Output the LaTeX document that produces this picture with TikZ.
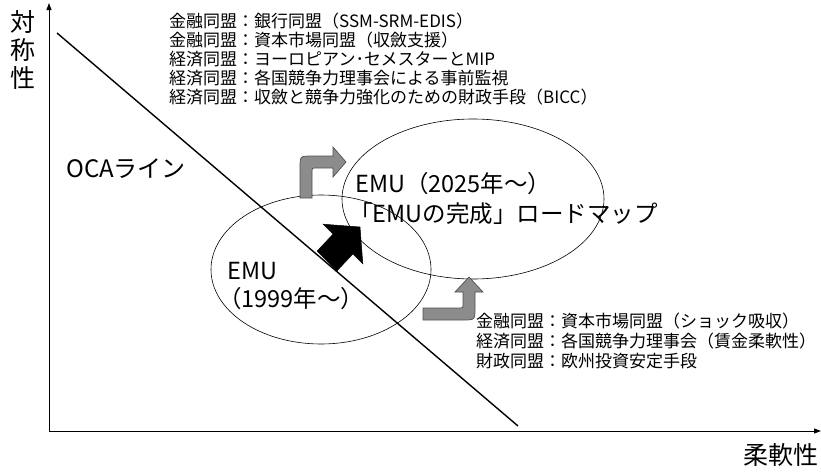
\documentclass[tikz,border=0pt]{standalone}
\usepackage{fontspec}
\setmainfont{Noto Sans CJK JP}
\usetikzlibrary{arrows.meta,shapes.geometric}
\definecolor{arrowgray}{HTML}{8C8C8C}
\definecolor{arrowedge}{HTML}{505050}
\begin{document}
\begin{tikzpicture}[x=1pt,y=-1pt,
  axisline/.style={line width=1pt,-{Triangle[length=7pt,width=5pt]}},
  ocaline/.style={line width=1.4pt},
  zone/.style={draw,ellipse,line width=0.6pt,inner sep=0pt},
  grayarrow/.style={fill=arrowgray,draw=arrowedge,line width=0.7pt},
  blackarrow/.style={fill=black,draw=black,line width=0.5pt},
  smalltext/.style={font=\fontsize{17}{19}\selectfont,anchor=west,inner sep=0pt},
  bigtext/.style={font=\fontsize{23.5}{28}\selectfont,anchor=west,inner sep=0pt},
  axistext/.style={font=\fontsize{25}{28}\selectfont,inner sep=0pt,align=center}]
\useasboundingbox (0,0) rectangle (821,471);

% axes
\coordinate (origin) at (49,431);
\coordinate (ytop) at (49,3);
\coordinate (xend) at (821,431);
\draw[axisline] (origin) -- (ytop);
\draw[axisline] (origin) -- (xend);
\node[axistext] (ylabel) at (23,50) {対\\称\\性};
\node[axistext,anchor=east] (xlabel) at (819,455) {柔軟性};

% zones
\node[zone,minimum width=220pt,minimum height=149pt] (emu1) at (321,269.5) {};
\node[zone,minimum width=262pt,minimum height=160pt] (emu2) at (473,199) {};

% OCA line
\coordinate (ocaA) at (57,33);
\coordinate (ocaB) at (518,426);
\draw[ocaline] (ocaA) -- (ocaB);
\node[font=\fontsize{24}{28}\selectfont,anchor=west,inner sep=0pt] (oca) at (66,169) {OCAライン};

% texts in zones
\node[bigtext] (emu2a) at (355,184) {EMU（2025年～）};
\node[bigtext] (emu2b) at (349,214) {「EMUの完成」ロードマップ};
\node[bigtext] (emu1a) at (227,271) {EMU};
\node[bigtext] (emu1b) at (218,299) {（1999年～）};

% top list
\node[smalltext] (t1) at (169,21) {金融同盟：銀行同盟（SSM-SRM-EDIS）};
\node[smalltext] (t2) at (169,40) {金融同盟：資本市場同盟（収斂支援）};
\node[smalltext] (t3) at (169,59) {経済同盟：ヨーロピアン･セメスターとMIP};
\node[smalltext] (t4) at (169,78) {経済同盟：各国競争力理事会による事前監視};
\node[smalltext] (t5) at (169,97) {経済同盟：収斂と競争力強化のための財政手段（BICC）};

% bottom list
\node[smalltext] (b1) at (476,321) {金融同盟：資本市場同盟（ショック吸収）};
\node[smalltext] (b2) at (476,341) {経済同盟：各国競争力理事会（賃金柔軟性）};
\node[smalltext] (b3) at (476,361) {財政同盟：欧州投資安定手段};

% gray arrow up-right
\draw[grayarrow] (300,198) -- (300,168) .. controls (300,156) .. (312,156) -- (333,156)
  -- (333,147) -- (346,162) -- (333,177) -- (333,168) -- (315,168)
  .. controls (312,168) .. (312,171) -- (312,198) -- cycle;
% gray arrow right-up
\draw[grayarrow] (423,308) -- (460,308) .. controls (463,308) .. (463,305) -- (463,292)
  -- (455,292) -- (469,277) -- (483,292) -- (475,292) -- (475,308)
  .. controls (475,320) .. (463,320) -- (423,320) -- cycle;
% black diagonal arrow
\draw[blackarrow] (317.1,251.1) -- (333.1,234.1) -- (323.2,224.2) -- (360,227)
  -- (362.8,263.8) -- (352.9,253.9) -- (336.9,270.9) -- cycle;
\end{tikzpicture}
\end{document}
